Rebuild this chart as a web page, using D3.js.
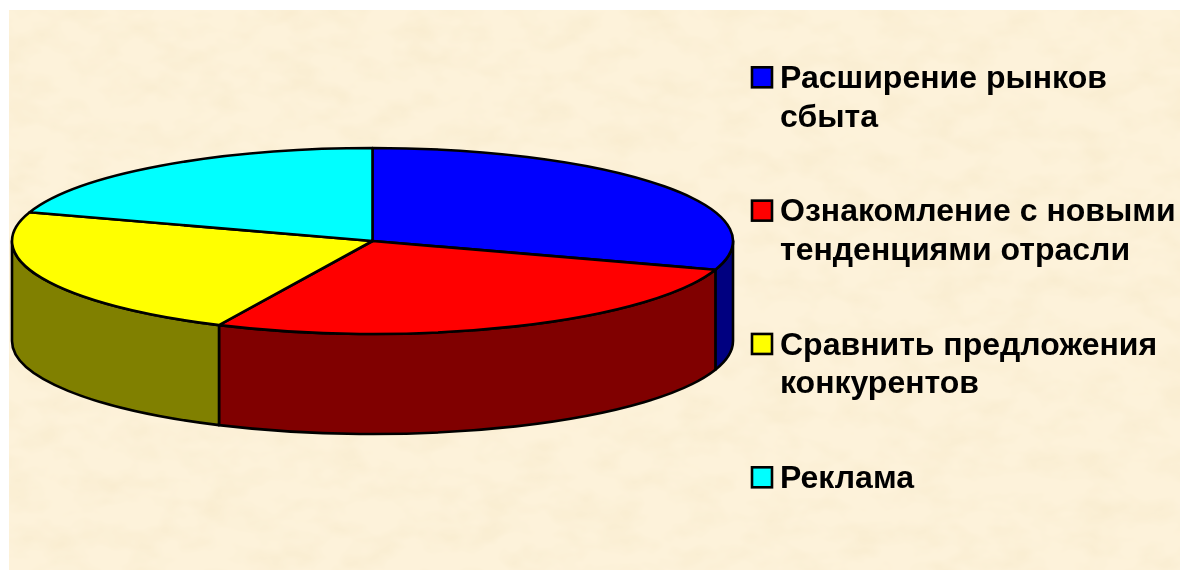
<!DOCTYPE html>
<html>
<head>
<meta charset="utf-8">
<script src="https://cdn.jsdelivr.net/npm/d3@7"></script>
<style>
  html, body { margin: 0; padding: 0; background: #fff; overflow: hidden; }
  text { font-family: "Liberation Sans", Arial, sans-serif; font-weight: bold; font-size: 32px; fill: #000; }
</style>
</head>
<body>
<div id="chart-container"></div>
<script>
// Values (percent)
const categories = ["Расширение рынков сбыта", "Ознакомление с новыми тенденциями отрасли", "Сравнить предложения конкурентов", "Реклама"];
const values = [30, 27, 23, 20];
const topColors = ["#0000ff", "#ff0000", "#ffff00", "#00ffff"];
const sideColors = ["#000080", "#800000", "#808000", "#008080"];
const legendLines = [["Расширение рынков", "сбыта"], ["Ознакомление с новыми", "тенденциями отрасли"], ["Сравнить предложения", "конкурентов"], ["Реклама"]];

const width = 1180;
const height = 570;

// Pie geometry
const cx = 372.5, cy = 241, rx = 360.5, ry = 93, depth = 100;
const lineWidth = 2.6;

const svg = d3.select("#chart-container")
  .append("svg")
  .attr("width", width)
  .attr("height", height)
  .style("display", "block");

const defs = svg.append("defs");

// Paper texture for the background
const paper = defs.append("filter")
  .attr("id", "paper")
  .attr("x", 0).attr("y", 0).attr("width", 1).attr("height", 1);
paper.append("feTurbulence")
  .attr("type", "fractalNoise")
  .attr("baseFrequency", "0.025 0.04")
  .attr("numOctaves", 3)
  .attr("seed", 7)
  .attr("result", "noise");
paper.append("feColorMatrix")
  .attr("in", "noise")
  .attr("type", "matrix")
  .attr("values", "0 0 0 0 0.85  0 0 0 0 0.72  0 0 0 0 0.45  0.5 0 0 0 -0.2");

// The reference is a slightly soft upscaled image
const soft = defs.append("filter")
  .attr("id", "soft")
  .attr("x", "-2%").attr("y", "-2%").attr("width", "104%").attr("height", "104%");
soft.append("feGaussianBlur").attr("stdDeviation", 0.4);

svg.append("rect")
  .attr("x", 9).attr("y", 10)
  .attr("width", width - 9).attr("height", height - 10)
  .attr("fill", "#fdf2da");
svg.append("rect")
  .attr("x", 9).attr("y", 10)
  .attr("width", width - 9).attr("height", height - 10)
  .attr("filter", "url(#paper)");

const chart = svg.append("g").attr("filter", "url(#soft)");

const pie = d3.pie().sort(null).value(d => d);
const slices = pie(values);

// Angles run clockwise from the top, like d3.arc
const px = a => cx + rx * Math.sin(a);
const py = a => cy - ry * Math.cos(a);

// Side walls, only the front half of the disc shows
const sides = chart.append("g");
slices.forEach((s, i) => {
  const a0 = Math.max(s.startAngle, Math.PI / 2);
  const a1 = Math.min(s.endAngle, Math.PI * 1.5);
  if (a1 <= a0) return;
  const d = `M${px(a0)},${py(a0)}`
    + `A${rx},${ry} 0 0 1 ${px(a1)},${py(a1)}`
    + `L${px(a1)},${py(a1) + depth}`
    + `A${rx},${ry} 0 0 0 ${px(a0)},${py(a0) + depth}Z`;
  sides.append("path")
    .attr("d", d)
    .attr("fill", sideColors[i])
    .attr("stroke", "#000")
    .attr("stroke-width", lineWidth)
    .attr("stroke-linejoin", "round");
});

// Top of the disc
const arc = d3.arc().innerRadius(0).outerRadius(rx);
chart.append("g")
  .attr("transform", `translate(${cx},${cy}) scale(1,${ry / rx})`)
  .selectAll("path")
  .data(slices)
  .enter()
  .append("path")
  .attr("d", arc)
  .attr("fill", (d, i) => topColors[i])
  .attr("stroke", "#000")
  .attr("stroke-width", lineWidth)
  .attr("stroke-linejoin", "round")
  .attr("vector-effect", "non-scaling-stroke");

// Legend
const legendY = d3.scalePoint().domain(categories).range([77, 477]);
const legend = chart.append("g");
categories.forEach((c, i) => {
  const y = legendY(c);
  legend.append("rect")
    .attr("x", 752).attr("y", y - 9.7)
    .attr("width", 20).attr("height", 20)
    .attr("fill", topColors[i])
    .attr("stroke", "#000")
    .attr("stroke-width", lineWidth);
  legendLines[i].forEach((line, j) => {
    legend.append("text")
      .attr("x", 780)
      .attr("y", y + 11 + j * 38.5)
      .text(line);
  });
});
</script>
</body>
</html>
